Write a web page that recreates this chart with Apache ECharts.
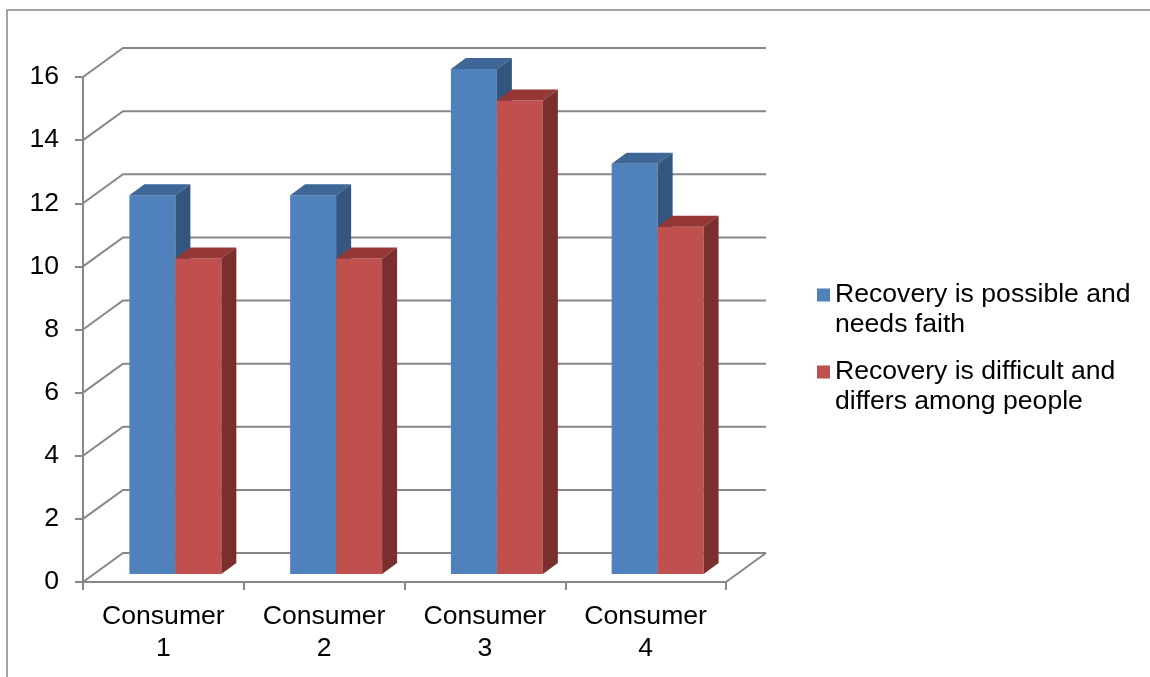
<!DOCTYPE html>
<html><head><meta charset="utf-8">
<script src="https://cdn.jsdelivr.net/npm/echarts@6/dist/echarts.min.js"></script>
<style>html,body{margin:0;padding:0;background:#fff}#c{width:1150px;height:677px}</style>
</head><body><div id="c"></div>
<script>
const categories = ['Consumer 1', 'Consumer 2', 'Consumer 3', 'Consumer 4'];
const seriesNames = ['Recovery is possible and needs faith', 'Recovery is difficult and differs among people'];
const legendLabels = ['Recovery is possible and\nneeds faith', 'Recovery is difficult and\ndiffers among people'];
const faithValues = [12, 12, 16, 13];
const difficultValues = [10, 10, 15, 11];
const yTicks = [0, 2, 4, 6, 8, 10, 12, 14, 16];

// 3D look parameters (pixels)
const DX = 40, DY = 29;      // wall depth
const SX = 12, SY = -8;      // bar front plane offset
const BX = 15, BY = 11;      // bar depth
const BAR_RATIO = 0.286;
const GRID_COLOR = '#878787';
const FONT = '"Liberation Sans", Arial, sans-serif';

const blue = {front: '#4F81BD', top: '#3E6697', side: '#33557E'};
const red = {front: '#C0504D', top: '#953735', side: '#7A2E2D'};

function renderWall(params, api) {
  const cs = params.coordSys;
  const v = api.value(1);
  const y = api.coord([0, v])[1];
  const x0 = cs.x, x1 = cs.x + cs.width;
  const ls = {stroke: GRID_COLOR, lineWidth: 2, fill: null};
  const children = [{type: 'polyline', shape: {points: [[x0, y], [x0 + DX, y - DY], [x1 + DX, y - DY]]}, style: ls}];
  if (v === yTicks[0]) {
    children.push({type: 'polyline', shape: {points: [[x1, y], [x1 + DX, y - DY]]}, style: ls});
  }
  return {type: 'group', silent: true, children: children};
}

function makeBarRender(idx, col) {
  return function (params, api) {
    const cat = api.value(0), val = api.value(1);
    const c0 = api.coord([cat, 0]), c1 = api.coord([cat, val]);
    const band = api.size([1, 0])[0];
    const w = band * BAR_RATIO;
    const left = c0[0] + (idx === 0 ? -w : 0) + SX;
    const right = left + w;
    const bottom = c0[1] + SY, top = c1[1] + SY;
    return {
      type: 'group',
      children: [
        {type: 'rect', shape: {x: left, y: top, width: w, height: bottom - top}, style: {fill: col.front}},
        {type: 'polygon', shape: {points: [[left, top], [right, top], [right + BX, top - BY], [left + BX, top - BY]]}, style: {fill: col.top}},
        {type: 'polygon', shape: {points: [[right, top], [right, bottom], [right + BX, bottom - BY], [right + BX, top - BY]]}, style: {fill: col.side}}
      ]
    };
  };
}

// leading blank line keeps the legend square level with the first text line
function legendFmt(name) {
  return ' \n' + legendLabels[seriesNames.indexOf(name)];
}

const legendCommon = {
  orient: 'vertical', left: 817, icon: 'rect', itemWidth: 13, itemHeight: 13, padding: 0,
  formatter: legendFmt, selectedMode: false,
  textStyle: {fontSize: 26.6, lineHeight: 30, fontFamily: FONT, color: '#000'}
};

const chart = echarts.init(document.getElementById('c'), null, {renderer: 'canvas'});
chart.setOption({
  animation: false,
  backgroundColor: '#fff',
  graphic: [{type: 'rect', silent: true, shape: {x: 7, y: 10, width: 1300, height: 900}, style: {fill: null, stroke: '#868686', lineWidth: 1.5}}],
  legend: [
    Object.assign({}, legendCommon, {top: 250, data: [seriesNames[0]]}),
    Object.assign({}, legendCommon, {top: 327, data: [seriesNames[1]]})
  ],
  grid: {left: 83, top: 77, width: 643, height: 505},
  xAxis: {
    type: 'category', data: categories,
    axisLine: {lineStyle: {color: GRID_COLOR, width: 2}},
    axisTick: {show: true, length: 8, lineStyle: {color: GRID_COLOR, width: 2}},
    axisLabel: {fontSize: 26.6, lineHeight: 32, fontFamily: FONT, color: '#000', margin: 19, interval: 0,
      formatter: function (v) { return v.replace(' ', '\n'); }},
    splitLine: {show: false}
  },
  yAxis: {
    type: 'value', min: 0, max: 16, interval: 2,
    axisLine: {show: true, lineStyle: {color: GRID_COLOR, width: 2}},
    axisTick: {show: true, length: 8, lineStyle: {color: GRID_COLOR, width: 2}},
    axisLabel: {fontSize: 26.6, fontFamily: FONT, color: '#000', margin: 24},
    splitLine: {show: false}
  },
  series: [
    {type: 'custom', name: 'wall', z: 1, silent: true, renderItem: renderWall,
      data: yTicks.map(function (v) { return [0, v]; }), encode: {x: 0, y: 1}},
    {type: 'custom', name: seriesNames[0], z: 3, renderItem: makeBarRender(0, blue), itemStyle: {color: blue.front},
      data: faithValues.map(function (v, i) { return [i, v]; }), encode: {x: 0, y: 1}},
    {type: 'custom', name: seriesNames[1], z: 4, renderItem: makeBarRender(1, red), itemStyle: {color: red.front},
      data: difficultValues.map(function (v, i) { return [i, v]; }), encode: {x: 0, y: 1}}
  ]
});
</script>
</body></html>
